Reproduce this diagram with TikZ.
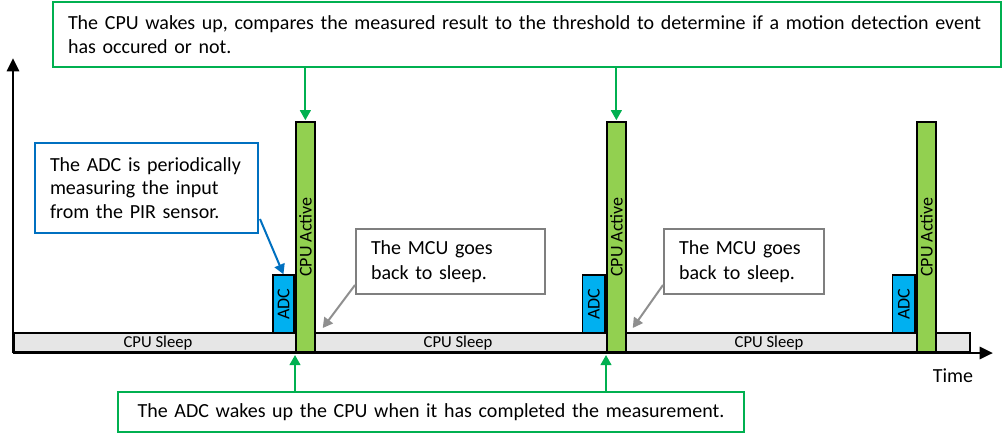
\documentclass[tikz,border=0pt]{standalone}
\usepackage{fontspec}
\setmainfont{Carlito}
\usetikzlibrary{arrows.meta,calc}
\definecolor{cgreen}{HTML}{00B050}
\definecolor{cblue}{HTML}{0070C0}
\definecolor{cgrayb}{HTML}{7F7F7F}
\definecolor{cgraya}{HTML}{8F8F8F}
\definecolor{csleep}{HTML}{E6E6E6}
\definecolor{cactive}{HTML}{92D050}
\definecolor{cadc}{HTML}{00B0F0}
\begin{document}
\begin{tikzpicture}[x=0.75pt,y=-0.75pt,
  callout/.style={draw, line width=1.5pt, fill=white, inner xsep=11.25pt, inner ysep=0pt,
    anchor=north west, align=left, font=\fontsize{15}{18.5}\selectfont},
  sleepbar/.style={draw, line width=1.3pt, fill=csleep, inner sep=0pt, anchor=south west},
  cpubar/.style={draw, line width=1.3pt, fill=cactive, inner sep=0pt, anchor=south west,
    minimum width=14.25pt, minimum height=172.5pt},
  adcbox/.style={draw, line width=1.3pt, fill=cadc, inner sep=0pt, anchor=south east,
    minimum width=16pt, minimum height=43.5pt},
  barlabel/.style={rotate=90, inner sep=0pt, font=\fontsize{13.5}{15}\selectfont},
  sleeplabel/.style={inner sep=0pt, font=\fontsize{12.5}{14}\selectfont},
  axisline/.style={line width=2.2pt, -{Triangle[length=10pt,width=9pt]}},
  garrow/.style={cgreen, line width=1.5pt, -{Triangle[length=7.5pt,width=8pt]}},
  barrow/.style={cblue, line width=1.5pt, -{Triangle[length=7.5pt,width=8pt]}},
  grarrow/.style={cgraya, line width=1.5pt, -{Triangle[length=7.5pt,width=8pt]}}
]
\useasboundingbox (0,0) rectangle (1005,437);

% sleep bar
\node[sleepbar, minimum width=717pt, minimum height=14.25pt] (sleep) at (13,353) {};

% ADC boxes
\node[adcbox] (adc1) at (295,334) {};
\node[adcbox, minimum width=17pt] (adc2) at (606,334) {};
\node[adcbox, minimum width=17pt] (adc3) at (916,334) {};
\node[barlabel] at (adc1) {ADC};
\node[barlabel] at (adc2) {ADC};
\node[barlabel] at (adc3) {ADC};

% CPU active bars
\node[cpubar] (cpu1) at (295,353) {};
\node[cpubar] (cpu2) at (606,353) {};
\node[cpubar] (cpu3) at (916,353) {};
\node[barlabel] at (cpu1) {CPU Active};
\node[barlabel] at (cpu2) {CPU Active};
\node[barlabel] at (cpu3) {CPU Active};

% sleep labels
\node[sleeplabel] (s1) at (158,343) {CPU Sleep};
\node[sleeplabel] (s2) at (458,343) {CPU Sleep};
\node[sleeplabel] (s3) at (769,343) {CPU Sleep};

% axes
\coordinate (O) at (13,353);
\coordinate (xend) at (993,353);
\coordinate (yend) at (13,58);
\draw[axisline] (O) -- (xend);
\draw[axisline] (O) -- (yend);
\node[inner sep=0pt, font=\fontsize{15}{18}\selectfont] (time) at (953,376) {Time};

% callouts
\node[callout, draw=cgreen, minimum width=711pt, minimum height=48.75pt, text width=688.5pt] (top) at (52,1)
  {\mbox{The CPU wakes up, compares the measured result to the threshold to determine if a motion detection event}\\\mbox{has occured or not.}};
\node[callout, draw=cblue, minimum width=167.25pt, minimum height=67.5pt, text width=144.75pt,
  font=\fontsize{15}{17.5}\selectfont] (blue) at (34,142)
  {\mbox{The ADC is periodically}\\\mbox{measuring the input}\\\mbox{from the PIR sensor.}};
\node[callout, draw=cgrayb, minimum width=141.75pt, minimum height=48.75pt, text width=119.25pt] (gray1) at (355,228)
  {\mbox{The MCU goes}\\\mbox{back to sleep.}};
\node[callout, draw=cgrayb, minimum width=120pt, minimum height=48.75pt, text width=97.5pt] (gray2) at (663,228)
  {\mbox{The MCU goes}\\\mbox{back to sleep.}};
\node[callout, draw=cgreen, minimum width=469.5pt, minimum height=30pt, text width=447pt, align=center] (bot) at (117,391)
  {The ADC wakes up the CPU when it has completed the measurement.};

% connectors
\draw[garrow, shorten >=0.8pt] (top.south -| cpu1.north) -- (cpu1.north);
\draw[garrow, shorten >=0.8pt] (top.south -| cpu2.north) -- (cpu2.north);
\draw[garrow, shorten >=1.5pt] (bot.north -| cpu1.south west) -- (cpu1.south west);
\draw[garrow, shorten >=1.5pt] (bot.north -| cpu2.south west) -- (cpu2.south west);
\draw[barrow] ($(blue.south east)+(1,-15)$) -- (adc1.north);
\coordinate (g1) at ($(cpu1.south east)+(7,-25)$);
\coordinate (g2) at ($(cpu2.south east)+(6,-25)$);
\draw[grarrow] ($(gray1.south west)+(0,-10)$) -- (g1);
\draw[grarrow] ($(gray2.south west)+(0,-10)$) -- (g2);
\end{tikzpicture}
\end{document}
